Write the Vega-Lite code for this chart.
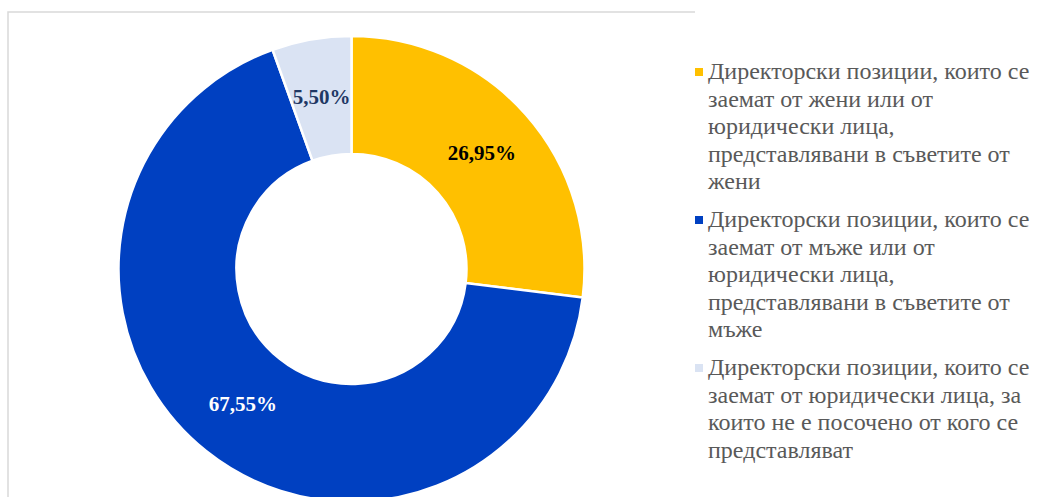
{
  "$schema": "https://vega.github.io/schema/vega-lite/v6.json",
  "autosize": {"type": "none"},
  "width": 687,
  "height": 514,
  "padding": {"left": 8, "top": 12, "right": 361, "bottom": 0},
  "background": "white",
  "config": {"view": {"stroke": null}},
  "data": {
    "values": [
      {"category": "Директорски позиции, които се\nзаемат от жени или от\nюридически лица,\nпредставлявани в съветите от\nжени", "share": 26.95, "label": "26,95%"},
      {"category": "Директорски позиции, които се\nзаемат от мъже или от\nюридически лица,\nпредставлявани в съветите от\nмъже", "share": 67.55, "label": "67,55%"},
      {"category": "Директорски позиции, които се\nзаемат от юридически лица, за\nкоито не е посочено от кого се\nпредставляват", "share": 5.50, "label": "5,50%"}
    ]
  },
  "layer": [
    {
      "data": {"values": [{"frame": "chart area"}]},
      "mark": {"type": "rect", "fill": null, "stroke": "#d9d9d9", "strokeWidth": 1.5, "strokeDash": [687, 514, 2400]},
      "encoding": {}
    },
    {
      "mark": {"type": "arc", "innerRadius": 115, "outerRadius": 233, "stroke": "white", "strokeWidth": 2.5},
      "encoding": {
        "theta": {"field": "share", "type": "quantitative", "stack": true},
        "order": {"field": "category", "type": "ordinal", "sort": "ascending"},
        "color": {
          "field": "category",
          "type": "nominal",
          "scale": {"range": ["#FFC000", "#0040C1", "#DAE3F3"]},
          "legend": {
            "title": null,
            "orient": "none",
            "legendX": 679,
            "legendY": 48,
            "symbolType": "square",
            "symbolSize": 64,
            "symbolStrokeWidth": 0,
            "labelFont": "Liberation Serif",
            "labelFontSize": 24,
            "labelColor": "#595959",
            "labelOffset": -3,
            "labelLimit": 400,
            "labelBaseline": "alphabetic",
            "rowPadding": 14,
            "labelExpr": "split(datum.value, '\\n')",
            "encoding": {"labels": {"lineHeight": {"value": 27.5}, "dy": {"value": 7}}}
          }
        }
      }
    },
    {
      "mark": {"type": "text", "radius": 174, "font": "Liberation Serif", "fontSize": 21, "fontWeight": "bold"},
      "encoding": {
        "theta": {"field": "share", "type": "quantitative", "stack": true},
        "order": {"field": "category", "type": "ordinal", "sort": "ascending"},
        "text": {"field": "label"},
        "color": {
          "condition": [
            {"test": "datum.share > 50", "value": "white"},
            {"test": "datum.share < 10", "value": "#1F3864"}
          ],
          "value": "black"
        }
      }
    }
  ]
}
